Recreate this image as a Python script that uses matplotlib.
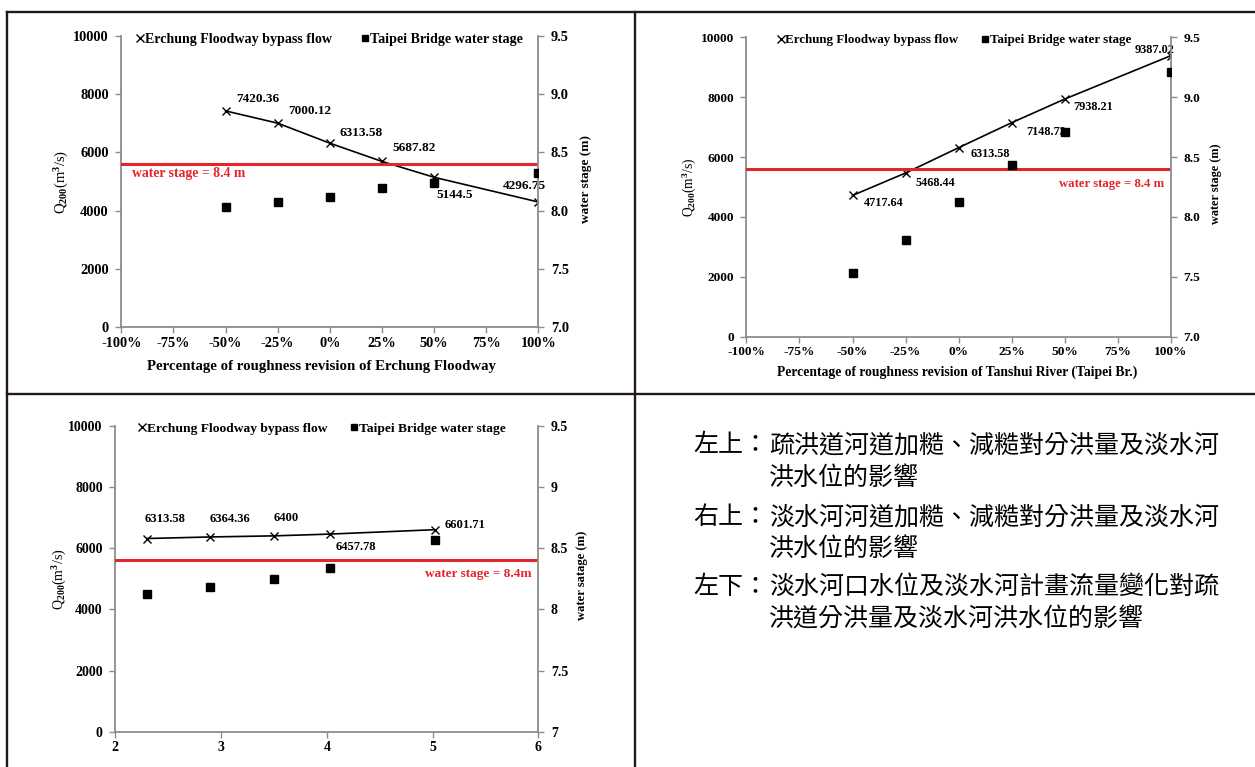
import numpy as np
import matplotlib.pyplot as plt
from matplotlib.lines import Line2D
from matplotlib.ticker import FuncFormatter, FormatStrFormatter

# figure size in pixels (dpi 100)
W = 1255
H = 767

plt.rcParams['font.family'] = ['Liberation Serif', 'DejaVu Serif']
plt.rcParams['font.weight'] = 'bold'
plt.rcParams['mathtext.fontset'] = 'custom'
plt.rcParams['mathtext.rm'] = 'Liberation Serif'
plt.rcParams['mathtext.it'] = 'Liberation Serif:italic'
plt.rcParams['mathtext.bf'] = 'Liberation Serif:bold'

# data
pct = [-50, -25, 0, 25, 50, 100]
erchung_q_a = [7420.36, 7000.12, 6313.58, 5687.82, 5144.5, 4296.75]
taipei_stage_a = [8.03, 8.07, 8.12, 8.19, 8.235, 8.32]
erchung_q_b = [4717.64, 5468.44, 6313.58, 7148.73, 7938.21, 9387.02]
taipei_stage_b = [7.53, 7.81, 8.125, 8.43, 8.71, 9.21]
mouth_stage = [2.3, 2.9, 3.5, 4.03, 5.02]
erchung_q_c = [6313.58, 6364.36, 6400, 6457.78, 6601.71]
taipei_stage_c = [8.125, 8.18, 8.245, 8.335, 8.57]
stage_limit = 8.4

legend_labels = ['Erchung Floodway bypass flow', 'Taipei Bridge water stage']

# label offsets in pixels (dx, dy) for each value label
offs_a = [(32, 12), (32, 12), (31, 10), (32, 13), (21, -18), (-14, 16)]
offs_b = [(31, -8), (30, -10), (32, -6), (34, -9), (28, -8), (-16, 6)]
offs_c = [(18, 20), (20, 18), (12, 18), (26, -13), (30, 5)]

GRAY = '#8c8c8c'
RED = '#e3262b'

fig = plt.figure(figsize=(W / 100, H / 100), dpi=100)


def px_axes(left, right, top, bottom):
    return fig.add_axes([left / W, 1 - bottom / H, (right - left) / W, (bottom - top) / H])


def make_chart(box, sc, x, q, stage, offs, xlim, xticks, xfmt, r_fmt, xlabel, xlab_fs, xlab_pos,
               ylab_l, ylab_r, rlabel, red_txt, red_pos, red_ha, leg_pos, colsp):
    ax = px_axes(*box)
    ax2 = ax.twinx()
    ax.plot(x, q, color='k', lw=1.2, marker='x', ms=6, mew=1.0, zorder=3)
    for xi, qi, (dx, dy) in zip(x, q, offs):
        ax.annotate(f'{qi:g}', (xi, qi), xytext=(dx, dy), textcoords='offset pixels',
                    ha='center', va='center', fontsize=9.5 * sc)
    ax2.plot(x, stage, ls='none', marker='s', ms=6, color='k', zorder=3)
    ax2.axhline(stage_limit, color=RED, lw=2.2, zorder=2)
    ax2.text(red_pos[0], red_pos[1], red_txt, color=RED, fontsize=9.9 * sc, ha=red_ha,
             va='center', transform=ax2.transAxes)

    ax.set_xlim(*xlim)
    ax.set_xticks(xticks)
    ax.xaxis.set_major_formatter(xfmt)
    ax.set_ylim(0, 10000)
    ax.set_yticks(np.arange(0, 10001, 2000))
    ax2.set_ylim(7, 9.5)
    ax2.set_yticks(np.arange(7, 9.51, 0.5))
    ax2.yaxis.set_major_formatter(r_fmt)

    for a in (ax, ax2):
        a.spines['top'].set_visible(False)
        for s in a.spines.values():
            s.set_color(GRAY)
            s.set_linewidth(1.3)
        a.tick_params(direction='out', length=4, width=1.0, color=GRAY,
                      labelsize=10.4 * sc, labelcolor='k')
    ax.spines['right'].set_visible(False)
    ax2.spines['left'].set_visible(False)
    ax2.spines['bottom'].set_visible(False)
    ax.tick_params(axis='y', pad=5)
    ax2.tick_params(axis='y', pad=5)
    ax.tick_params(axis='x', pad=3)

    if xlabel:
        ax.set_xlabel(xlabel, fontsize=xlab_fs, fontweight='bold', va='center')
        ax.xaxis.set_label_coords(*xlab_pos)
    ax.set_ylabel(r'Q$_{200}$(m$^{3}$/s)', fontsize=10.5 * sc, va='center', fontweight='normal')
    ax.yaxis.set_label_coords(ylab_l, 0.5)
    ax2.set_ylabel(rlabel, fontsize=9.5 * sc, fontweight='bold', va='center')
    ax2.yaxis.set_label_coords(ylab_r, 0.51)

    handles = [Line2D([], [], ls='none', marker='x', ms=6, mew=1.0, color='k'),
               Line2D([], [], ls='none', marker='s', ms=5, color='k')]
    ax2.legend(handles, legend_labels, loc='upper left', bbox_to_anchor=leg_pos, ncol=2,
               frameon=False, fontsize=10.1 * sc, handlelength=0.5, handletextpad=0.1,
               columnspacing=colsp, borderpad=0, borderaxespad=0)
    return ax, ax2


pct_fmt = FuncFormatter(lambda v, p: f'{v:.0f}%')

make_chart((121.3, 538.4, 35.7, 327.3), 1.0, pct, erchung_q_a, taipei_stage_a, offs_a,
           (-100, 100), np.arange(-100, 101, 25), pct_fmt, FormatStrFormatter('%.1f'),
           'Percentage of roughness revision of Erchung Floodway', 10.7, (0.479, -0.133),
           -0.142, 1.113, 'water stage (m)', 'water stage = 8.4 m', (0.025, 0.526), 'left',
           (0.037, 1.01), 2.1)

make_chart((746.4, 1170.9, 37.3, 336.7), 0.93, pct, erchung_q_b, taipei_stage_b, offs_b,
           (-100, 100), np.arange(-100, 101, 25), pct_fmt, FormatStrFormatter('%.1f'),
           'Percentage of roughness revision of Tanshui River (Taipei Br.)', 9.8, (0.496, -0.119),
           -0.133, 1.106, 'water stage (m)', 'water stage = 8.4 m', (0.984, 0.51), 'right',
           (0.073, 1.01), 1.8)

make_chart((115.3, 538.4, 425.7, 731.7), 0.96, mouth_stage, erchung_q_c, taipei_stage_c, offs_c,
           (2, 6), np.arange(2, 7, 1), FormatStrFormatter('%d'), FormatStrFormatter('%g'),
           None, None, None,
           -0.13, 1.104, 'water satage (m)', 'water stage = 8.4m', (0.985, 0.515), 'right',
           (0.055, 1.01), 1.75)

# table grid lines around the panels
BORDER = '#231815'
for (x0, y0, x1, y1) in [(7, 12, W, 12), (7, 393.7, W, 393.7), (7, 12, 7, H), (635, 12, 635, H)]:
    fig.add_artist(Line2D([x0 / W, x1 / W], [1 - y0 / H, 1 - y1 / H], transform=fig.transFigure,
                          color=BORDER, lw=1.7))

# caption text
captions = [
    ('左上：', ['疏洪道河道加糙、減糙對分洪量及淡水河', '洪水位的影響']),
    ('右上：', ['淡水河河道加糙、減糙對分洪量及淡水河', '洪水位的影響']),
    ('左下：', ['淡水河口水位及淡水河計畫流量變化對疏', '洪道分洪量及淡水河洪水位的影響']),
]
cap_y = [(445, 478), (517, 549), (587, 619)]
for (head, lines), ys in zip(captions, cap_y):
    fig.text(693 / W, 1 - ys[0] / H, head, fontsize=18, family=['Noto Sans CJK TC'],
             fontweight='normal', ha='left', va='center')
    for line, y in zip(lines, ys):
        fig.text(769 / W, 1 - y / H, line, fontsize=18, family=['Noto Sans CJK TC'],
                 fontweight='normal', ha='left', va='center')

fig.savefig('out.png', dpi=100)
